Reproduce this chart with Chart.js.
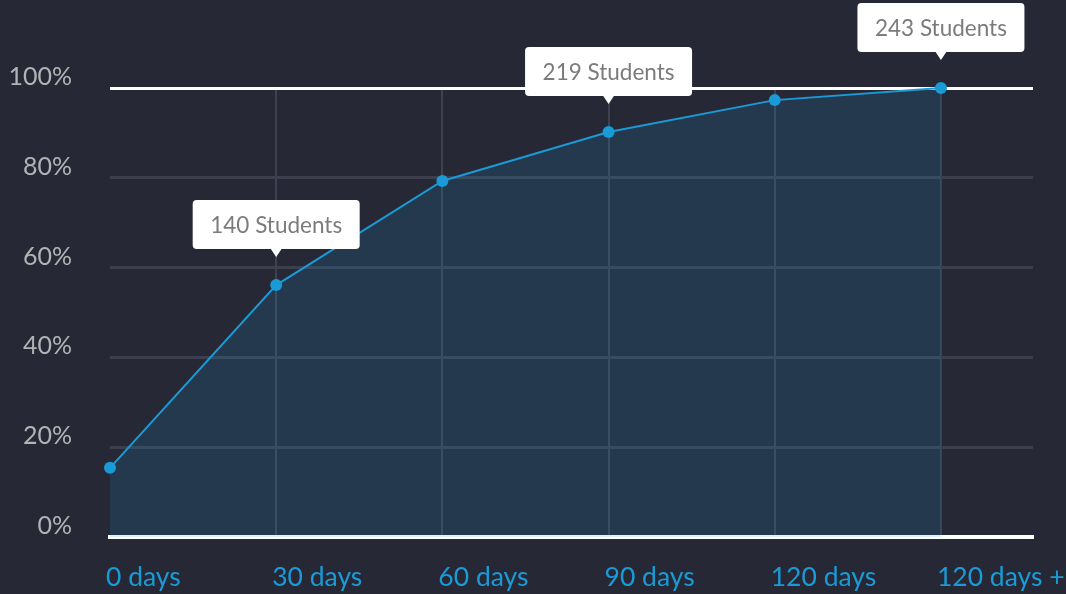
<!DOCTYPE html>
<html><head><meta charset="utf-8">
<script src="https://cdn.jsdelivr.net/npm/chart.js@4/dist/chart.umd.min.js"></script>
<style>html,body{margin:0;padding:0;background:#262835;}canvas{display:block}</style>
</head><body>
<canvas id="c" width="1066" height="594"></canvas>
<script>
const categories = ['0 days', '30 days', '60 days', '90 days', '120 days', '120 days +'];
const percentValues = [15.4, 56.1, 79.3, 90.2, 97.3, 100];
const studentCallouts = [null, 140, null, 219, null, 243];
const yTickValues = [0, 20, 40, 60, 80, 100];

const points = categories.map((c, i) => ({ x: i, y: percentValues[i] }));

const calloutPlugin = {
  id: 'callouts',
  afterDatasetsDraw(chart) {
    const ctx = chart.ctx;
    const meta = chart.getDatasetMeta(0);
    studentCallouts.forEach((n, i) => {
      if (n == null) return;
      const pt = meta.data[i];
      const w = 167, h = 49, gap = 36, tip = 8;
      const cx = pt.x, bottom = pt.y - gap, top = bottom - h, left = cx - w / 2;
      ctx.save();
      ctx.fillStyle = '#ffffff';
      ctx.beginPath(); ctx.roundRect(left, top, w, h, 4); ctx.fill();
      ctx.beginPath(); ctx.moveTo(cx - 6, bottom - 1); ctx.lineTo(cx, bottom + tip); ctx.lineTo(cx + 6, bottom - 1); ctx.closePath(); ctx.fill();
      ctx.fillStyle = '#7b7b7b';
      ctx.font = '22.5px Lato';
      ctx.textAlign = 'center';
      ctx.textBaseline = 'middle';
      ctx.fillText(n + ' Students', cx, top + h / 2 + 1);
      ctx.restore();
    });
  }
};

new Chart(document.getElementById('c'), {
  type: 'line',
  data: {
    datasets: [{
      data: points,
      borderColor: '#1a9ad6',
      borderWidth: 2,
      tension: 0,
      pointRadius: 6,
      pointHoverRadius: 6,
      pointBackgroundColor: '#1a9ad6',
      pointBorderWidth: 0,
      fill: { value: -0.45 },
      backgroundColor: 'rgba(26,154,214,0.15)',
      clip: false
    }]
  },
  options: {
    responsive: false,
    animation: false,
    devicePixelRatio: 1,
    layout: { padding: { top: 88, right: 33, left: 10, bottom: 0 } },
    plugins: { legend: { display: false }, tooltip: { enabled: false } },
    scales: {
      x: {
        type: 'linear',
        min: 0,
        max: 5.554,
        afterBuildTicks: (s) => { s.ticks = categories.map((c, i) => ({ value: i })); },
        afterFit: (s) => { s.height = 57; s.paddingLeft = 0; s.paddingRight = 0; },
        grid: {
          drawTicks: false,
          color: (ctx) => ctx.index === 0 ? 'rgba(0,0,0,0)' : '#3e4152',
          lineWidth: 2
        },
        border: { display: true, color: '#ffffff', width: 4 },
        ticks: {
          align: 'start',
          padding: 25,
          labelOffset: -4,
          color: '#1a9ad6',
          font: { family: 'Lato', size: 26.5 },
          maxRotation: 0,
          autoSkip: false,
          callback: (v) => categories[v]
        }
      },
      y: {
        min: 0,
        max: 100,
        afterBuildTicks: (s) => { s.ticks = yTickValues.map(v => ({ value: v })); },
        afterFit: (s) => { s.width = 100; s.paddingTop = 0; s.paddingBottom = 0; },
        grid: {
          drawTicks: false,
          color: (ctx) => ctx.tick.value === 0 ? 'rgba(0,0,0,0)' : (ctx.tick.value === 100 ? '#ffffff' : '#3d3f4e'),
          lineWidth: 3
        },
        border: { display: false },
        ticks: {
          padding: 38,
          labelOffset: -11,
          color: '#b3b3b6',
          font: { family: 'Lato', size: 25 },
          callback: (v) => v + '%'
        }
      }
    }
  },
  plugins: [calloutPlugin]
});
</script>
</body></html>
